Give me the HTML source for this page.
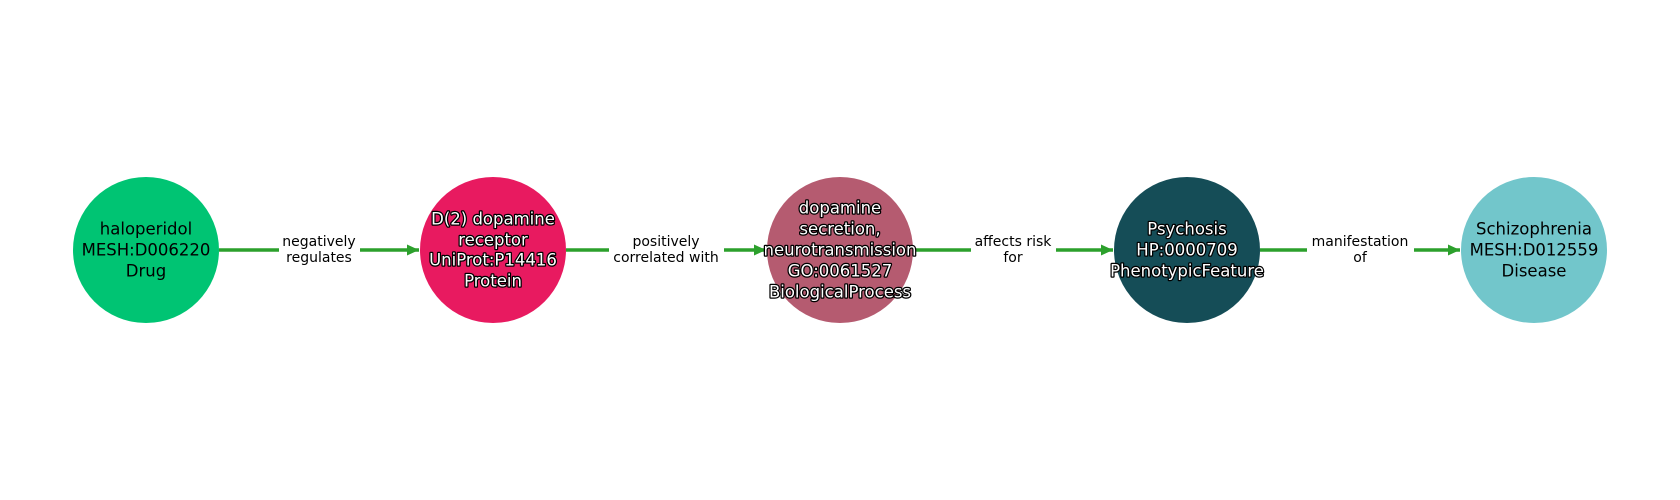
<!DOCTYPE html>
<html><head><meta charset="utf-8"><style>
html,body{margin:0;padding:0;background:#fff;}
svg{display:block;}
text{font-family:"DejaVu Sans","Liberation Sans",sans-serif;}
.n{font-size:16.5px;text-anchor:middle;dominant-baseline:central;}
.w{fill:#fff;stroke:#000;stroke-width:2.5px;paint-order:stroke;stroke-linejoin:round;}
.e{font-size:14px;text-anchor:middle;dominant-baseline:central;fill:#000;}
</style></head><body>
<svg width="1680" height="500" viewBox="0 0 1680 500">
<defs><marker id="a" markerWidth="12" markerHeight="11" refX="12" refY="5.5" orient="auto" markerUnits="userSpaceOnUse"><path d="M0,0 L12,5.5 L0,11 Z" fill="#2ca02c"/></marker></defs>
<g stroke="#2ca02c" stroke-width="3.5" fill="none">
<line x1="219" y1="250" x2="279" y2="250"/><line x1="360" y1="250" x2="419" y2="250" marker-end="url(#a)"/>
<line x1="566" y1="250" x2="609" y2="250"/><line x1="724" y1="250" x2="766" y2="250" marker-end="url(#a)"/>
<line x1="913" y1="250" x2="971" y2="250"/><line x1="1056" y1="250" x2="1113" y2="250" marker-end="url(#a)"/>
<line x1="1260" y1="250" x2="1307" y2="250"/><line x1="1414" y1="250" x2="1460" y2="250" marker-end="url(#a)"/>
</g>
<circle cx="146" cy="250" r="73" fill="#00c473"/>
<circle cx="493" cy="250" r="73" fill="#e81a60"/>
<circle cx="840" cy="250" r="73" fill="#b55b70"/>
<circle cx="1187" cy="250" r="73" fill="#154d57"/>
<circle cx="1534" cy="250" r="73" fill="#72c6cb"/>
<text class="n" x="146" y="229">haloperidol</text>
<text class="n" x="146" y="250">MESH:D006220</text>
<text class="n" x="146" y="271">Drug</text>
<text class="n w" x="493" y="219">D(2) dopamine</text>
<text class="n w" x="493" y="240">receptor</text>
<text class="n w" x="493" y="260">UniProt:P14416</text>
<text class="n w" x="493" y="281">Protein</text>
<text class="n w" x="840" y="208">dopamine</text>
<text class="n w" x="840" y="229">secretion,</text>
<text class="n w" x="840" y="250">neurotransmission</text>
<text class="n w" x="840" y="271">GO:0061527</text>
<text class="n w" x="840" y="292">BiologicalProcess</text>
<text class="n w" x="1187" y="229">Psychosis</text>
<text class="n w" x="1187" y="250">HP:0000709</text>
<text class="n w" x="1187" y="271">PhenotypicFeature</text>
<text class="n" x="1534" y="229">Schizophrenia</text>
<text class="n" x="1534" y="250">MESH:D012559</text>
<text class="n" x="1534" y="271">Disease</text>
<text class="e" x="319" y="242">negatively</text><text class="e" x="319" y="258">regulates</text>
<text class="e" x="666" y="242">positively</text><text class="e" x="666" y="258">correlated with</text>
<text class="e" x="1013" y="242">affects risk</text><text class="e" x="1013" y="258">for</text>
<text class="e" x="1360" y="242">manifestation</text><text class="e" x="1360" y="258">of</text>
</svg>
</body></html>
